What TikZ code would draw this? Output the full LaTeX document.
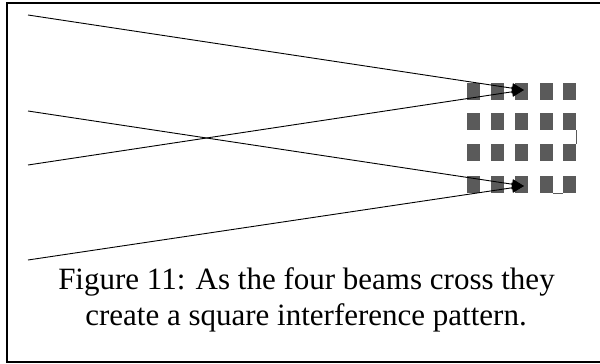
\documentclass[tikz,border=0pt]{standalone}
\usepackage{fontspec}
\setmainfont{Liberation Serif}
\usetikzlibrary{arrows.meta}
\definecolor{cellgray}{HTML}{5A5A5A}
\begin{document}
\begin{tikzpicture}[x=1pt,y=-1pt,
  cell/.style={fill=cellgray,draw=none,minimum width=13pt,minimum height=17pt,inner sep=0pt,anchor=north west},
  beam/.style={line width=0.9pt,-{Triangle[length=12pt,width=10pt]}},
  frameline/.style={line width=2pt,line cap=rect},
  caption/.style={font=\fontsize{31}{36}\selectfont,anchor=base,inner sep=0pt},
  link/.style={line width=0.8pt,draw=cellgray}]
\useasboundingbox (0,0) rectangle (600,364);
\fill[white] (0,0) rectangle (600,364);
% frame
\draw[frameline] (620,3) -- (7,3) -- (7,362) -- (620,362);
% cells
\foreach \c/\x in {1/467,2/491,3/515,4/540,5/563}{
  \foreach \r/\y in {1/83,2/113,3/144,4/176}{
    \node[cell] (c\r\c) at (\x,\y) {};
  }
}
\draw[link] (c25.south east) -- (c35.north east);
\draw[link] (c44.south east) -- (c45.south west);
% beams
\coordinate (s1) at (28,15);
\coordinate (s2) at (28,111);
\coordinate (s3) at (28,165);
\coordinate (s4) at (28,260);
\coordinate (t1) at (524,90);
\coordinate (t2) at (524,186);
\draw[beam] (s1) -- (t1);
\draw[beam] (s3) -- (t1);
\draw[beam] (s2) -- (t2);
\draw[beam] (s4) -- (t2);
% caption
\node[caption] (cap1) at (306.5,289) {Figure 11: As the four beams cross they};
\node[caption] (cap2) at (306,325) {create a square interference pattern.};
\end{tikzpicture}
\end{document}
